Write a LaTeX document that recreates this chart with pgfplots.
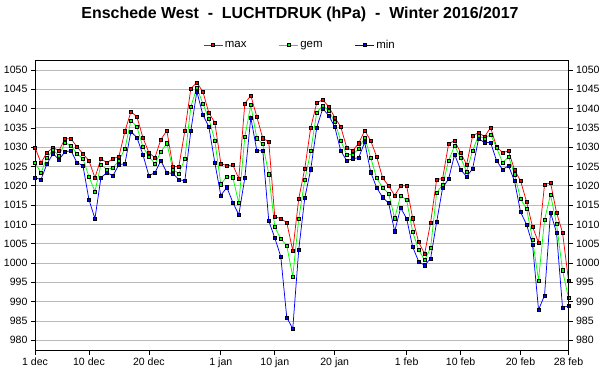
\documentclass[border=0pt]{standalone}
\usepackage{pgfplots}
\pgfplotsset{compat=1.18}
\usepackage{pgfplotstable}
\usepackage{fontspec}
\setmainfont{Liberation Sans}

\pgfplotstableread{
d mx gm mn
0 1029.9 1026.0 1022.1
1 1026.0 1023.4 1021.6
2 1028.6 1027.3 1025.7
3 1029.9 1029.3 1028.3
4 1029.1 1027.8 1026.8
5 1032.2 1031.2 1028.8
6 1032.2 1030.4 1029.1
7 1030.1 1028.3 1026.0
8 1028.3 1027.0 1025.2
9 1026.5 1022.4 1016.4
10 1022.1 1018.5 1011.5
11 1027.0 1025.5 1022.1
12 1026.0 1024.2 1023.4
13 1027.0 1024.7 1022.6
14 1027.6 1026.5 1025.5
15 1034.1 1029.6 1025.7
16 1039.2 1036.9 1034.0
17 1037.9 1035.3 1032.5
18 1032.5 1030.1 1028.1
19 1028.6 1027.6 1022.6
20 1027.3 1025.7 1023.4
21 1032.0 1028.8 1026.5
22 1034.3 1031.0 1023.4
23 1025.0 1024.2 1023.2
24 1025.0 1023.2 1021.6
25 1034.3 1027.0 1021.3
26 1045.2 1040.5 1034.3
27 1046.7 1045.4 1044.4
28 1044.4 1041.3 1038.4
29 1038.9 1037.4 1035.3
30 1036.4 1031.7 1026.0
31 1025.8 1020.4 1017.5
32 1025.2 1022.4 1019.6
33 1025.4 1022.2 1015.7
34 1021.9 1015.5 1012.5
35 1041.3 1032.7 1022.0
36 1043.4 1040.9 1037.7
37 1037.9 1032.3 1029.1
38 1032.3 1030.8 1029.1
39 1031.4 1023.0 1010.9
40 1012.0 1009.4 1006.5
41 1011.5 1006.3 1001.7
42 1010.5 1004.5 985.9
43 1003.2 996.5 983.0
44 1016.7 1011.5 1003.5
45 1024.4 1021.5 1016.8
46 1035.1 1029.0 1024.3
47 1041.5 1039.0 1035.1
48 1042.3 1040.8 1040.0
49 1040.5 1039.5 1038.2
50 1037.7 1036.6 1035.3
51 1035.3 1031.7 1029.1
52 1029.9 1028.1 1026.5
53 1029.1 1028.1 1027.0
54 1031.0 1029.6 1027.3
55 1034.3 1032.5 1031.3
56 1031.7 1027.3 1023.5
57 1027.5 1022.0 1019.5
58 1022.0 1019.5 1017.0
59 1020.0 1018.0 1015.5
60 1017.5 1011.6 1008.2
61 1020.0 1017.5 1014.3
62 1020.0 1016.3 1011.5
63 1011.6 1008.1 1004.2
64 1005.4 1003.4 1000.4
65 1002.4 1000.8 999.4
66 1010.5 1003.9 1001.2
67 1021.6 1018.2 1010.6
68 1021.9 1020.3 1019.5
69 1030.9 1026.5 1021.8
70 1031.7 1030.4 1028.1
71 1028.6 1027.3 1024.2
72 1025.5 1023.7 1022.4
73 1032.9 1029.1 1024.4
74 1033.8 1033.0 1032.2
75 1032.7 1032.2 1031.2
76 1035.1 1033.3 1031.2
77 1030.1 1029.9 1026.5
78 1028.6 1026.0 1024.2
79 1029.0 1027.5 1025.2
80 1024.1 1023.0 1021.2
81 1021.3 1016.6 1013.2
82 1015.9 1014.1 1010.0
83 1009.4 1006.1 1004.8
84 1005.3 995.5 987.9
85 1020.3 1011.2 991.6
86 1020.8 1017.7 1013.1
87 1013.1 1010.2 1007.9
88 1007.9 998.1 988.5
89 995.5 991.0 988.9
}\presdata

\pgfplotsset{
  common/.style={
    at={(0,0)}, anchor=south west,
    scale only axis, width=533.5bp, height=290bp,
    xmin=0, xmax=89, ymin=977.3, ymax=1052.4,
    ytick={980,985,...,1050},
    tick align=outside, major tick length=4bp,
    tick style={black, line width=0.7bp},
    axis line style={line width=0.8bp},
    tick label style={font=\fontsize{10.6}{12}\selectfont},
    /pgf/number format/assume math mode=true,
    /pgf/number format/1000 sep={},
  },
  ser/.style={line width=0.75bp, mark=square*, mark size=1.6bp,
    mark options={draw=black, fill=#1, line width=0.6bp, solid}, draw=#1},
}

\begin{document}
\begin{tikzpicture}
\path[use as bounding box] (-35bp,-39.3bp) rectangle (565bp,350.7bp);
\begin{axis}[
  common,
  xtick={0,9,19,31,40,50,62,71,81,89},
  xticklabels={1 dec,10 dec,20 dec,1 jan,10 jan,20 jan,1 feb,10 feb,20 feb,28 feb},
  xtick pos=bottom, ytick pos=left,
  ymajorgrids, grid style={draw=black!27, line width=0.8bp},
  legend columns=3,
  legend image code/.code={
    \draw[#1] (0bp,0bp) -- (19bp,0bp);
    \draw[#1, only marks] plot coordinates {(9.5bp,0bp)};
  },
  legend style={at={(axis description cs:0.4967,1)}, anchor=center, yshift=15.7bp,
    draw=none, fill=none, font=\fontsize{11.5}{13}\selectfont,
    /tikz/every even column/.append style={column sep=30bp}},
]
\addplot[ser=red] table[x=d, y=mx] {\presdata};
\addlegendentry{max}
\addplot[ser=green] table[x=d, y=gm] {\presdata};
\addlegendentry{gem}
\addplot[ser=blue] table[x=d, y=mn] {\presdata};
\addlegendentry{min}
\end{axis}
\begin{axis}[
  common,
  axis x line=none, axis y line*=right,
  ytick pos=right, yticklabel pos=right,
]
\end{axis}
\node[font=\bfseries\fontsize{16}{19}\selectfont] at (265bp,336.7bp)
  {Enschede West\ \ -\ \ LUCHTDRUK (hPa)\ \ -\ \ Winter 2016/2017};
\end{tikzpicture}
\end{document}
